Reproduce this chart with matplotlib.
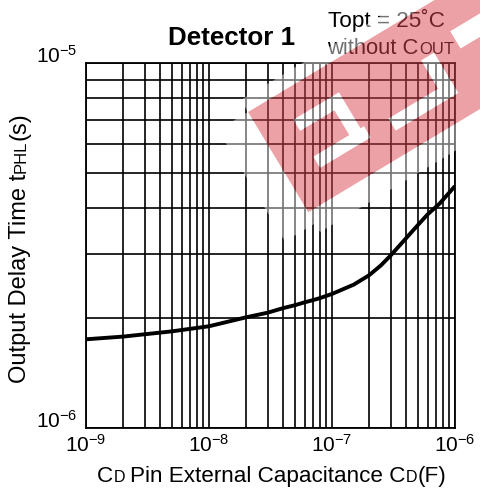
import numpy as np
import matplotlib
matplotlib.use("Agg")
import matplotlib.pyplot as plt
from matplotlib.patches import Polygon, PathPatch
from matplotlib.path import Path
from matplotlib.ticker import NullFormatter

plt.rcParams['font.family'] = ['Liberation Sans', 'DejaVu Sans']
plt.rcParams['axes.unicode_minus'] = False
plt.rcParams['mathtext.fontset'] = 'custom'
plt.rcParams['mathtext.rm'] = 'Liberation Sans'

# C_D pin capacitance (F) vs output delay time tPHL (s)
cap = [1e-9, 2e-9, 5e-9, 1e-8, 2e-8, 3e-8, 4e-8, 5e-8, 6e-8, 7e-8, 8e-8, 1e-7,
       1.5e-7, 2e-7, 2.5e-7, 3e-7, 4e-7, 5e-7, 6e-7, 7.5e-7, 1e-6]
tphl = [1.75e-6, 1.78e-6, 1.84e-6, 1.90e-6, 2.01e-6, 2.07e-6, 2.13e-6, 2.17e-6,
        2.21e-6, 2.24e-6, 2.27e-6, 2.33e-6, 2.47e-6, 2.62e-6, 2.79e-6, 2.97e-6,
        3.31e-6, 3.60e-6, 3.85e-6, 4.12e-6, 4.60e-6]

W, H = 481, 492
fig = plt.figure(figsize=(W / 100, H / 100), dpi=100)
ax = fig.add_axes([86 / W, 1 - 428 / H, (455 - 86) / W, (428 - 63) / H])

ax.plot(cap, tphl, color='black', lw=2.8, solid_capstyle='butt', zorder=3)
ax.set_xscale('log')
ax.set_yscale('log')
ax.set_xlim(1e-9, 1e-6)
ax.set_ylim(1e-6, 1e-5)
ax.xaxis.set_minor_formatter(NullFormatter())
ax.yaxis.set_minor_formatter(NullFormatter())
ax.grid(which='both', color='black', lw=1.2)
ax.tick_params(which='both', length=0, labelsize=15, colors='black')
ax.tick_params(axis='x', pad=4)
ax.tick_params(axis='y', pad=6.5)
for lab in ax.get_yticklabels():
    lab.set_va('baseline')
for sp in ax.spines.values():
    sp.set_linewidth(1.3)


def px(x, y):
    return (x / W, 1 - y / H)


renderer = fig.canvas.get_renderer()


def runs(x, y, parts, rotation=0, **kw):
    # parts: (text, fontsize, gap_before_px)
    pos = 0
    for s, size, gap in parts:
        pos += gap
        if rotation == 0:
            xy = px(x + pos, y)
        else:
            xy = px(x, y - pos)
        t = fig.text(xy[0], xy[1], s, fontsize=size, rotation=rotation,
                     rotation_mode='anchor', ha='left', va='baseline', **kw)
        bb = t.get_window_extent(renderer)
        pos += bb.width if rotation == 0 else bb.height


fig.text(*px(232, 45), 'Detector 1', fontsize=18.7, fontweight='bold',
         ha='center', va='baseline')
runs(328, 27, [('Topt = 25˚C', 16.2, 0)])
runs(327, 54, [('without C', 15.8, 0), ('OUT', 12, 0.5)])
runs(97, 482, [('C', 16.2, 0), ('D', 11.5, 0.5), ('Pin External Capacitance C', 16.2, 5),
               ('D', 11.5, 0.5), ('(F)', 16.2, 0.5)])
runs(26, 383, [('Output Delay Time t', 17, 0), ('PHL', 12, 0.5), ('(s)', 17, 0.5)],
     rotation=90)

# watermark (rotated band with cut-outs)
O = np.array([248.0, 112.0])
ang = np.deg2rad(31)
u = np.array([np.cos(ang), -np.sin(ang)])
v = np.array([np.sin(ang), np.cos(ang)])


def band(s0, s1, t0, t1):
    pts = [O + s * u + t * v for s, t in [(s0, t0), (s1, t0), (s1, t1), (s0, t1)]]
    return [px(*p) for p in pts]


holes = [(35, 88, 30, 43), (75, 88, 43, 72), (33, 92, 72, 85),
         (117, 190, 78, 92), (175, 190, 45, 78), (215, 260, 35, 55)]
verts, codes = [], []
outer = band(0, 420, 0, 117)
verts += outer + [outer[0]]
codes += [Path.MOVETO] + [Path.LINETO] * 3 + [Path.CLOSEPOLY]
for h in holes:
    r = band(*h)[::-1]
    verts += r + [r[0]]
    codes += [Path.MOVETO] + [Path.LINETO] * 3 + [Path.CLOSEPOLY]
fig.add_artist(PathPatch(Path(verts, codes), transform=fig.transFigure,
                         facecolor=(216 / 255, 69 / 255, 78 / 255), alpha=0.5,
                         edgecolor='none', zorder=10))
for w in [(-35, 0, 0, 130), (0, 420, 117, 140), (0, 420, -14, 0)] + holes:
    fig.add_artist(Polygon(band(*w), closed=True, transform=fig.transFigure,
                           facecolor='white', alpha=0.45, edgecolor='none', zorder=10))

fig.savefig('out.png', dpi=100)
